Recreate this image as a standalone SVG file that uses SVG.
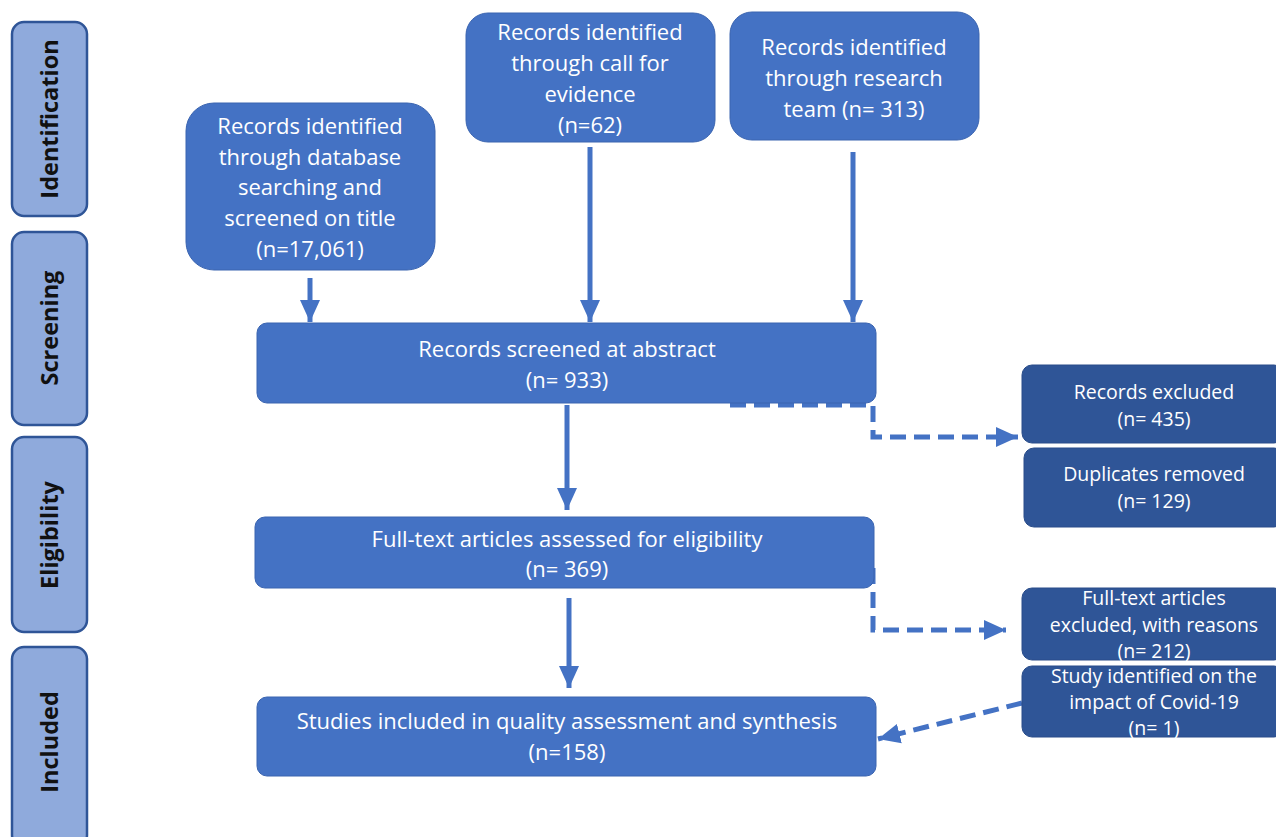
<svg xmlns="http://www.w3.org/2000/svg" width="1276" height="837" viewBox="0 0 1276 837">
<style>
.phase{fill:#8faadc;stroke:#2f5597;stroke-width:2.5}
.pt{font-family:"Open Sans","Liberation Sans",Arial,sans-serif;font-weight:bold;font-size:23.5px;fill:#111;text-anchor:middle}
.box{fill:#4472c4;stroke:#3a64b0;stroke-width:1}
.dbox{fill:#2f5597;stroke:#2a4d8a;stroke-width:1}
.t{font-family:"Open Sans","Liberation Sans",Arial,sans-serif;font-size:22px;fill:#fff;text-anchor:middle}
.tt{font-family:"Open Sans","Liberation Sans",Arial,sans-serif;font-size:22px;fill:#fff;text-anchor:middle}
.ts{font-family:"Open Sans","Liberation Sans",Arial,sans-serif;font-size:19.5px;fill:#fff;text-anchor:middle}
.solid{stroke:#4472c4;stroke-width:5;fill:none}
.dash{stroke:#4472c4;stroke-width:5;fill:none;stroke-dasharray:16,8}
</style>
<defs>
<marker id="ah" markerUnits="userSpaceOnUse" markerWidth="24" markerHeight="24" viewBox="0 0 24 24" refX="22" refY="12" orient="auto">
<path d="M0,2 L22,12 L0,22 Z" fill="#4472c4"/>
</marker>
</defs>
<g id="phases">
<g id="ph-identification"><rect class="phase" x="12" y="22" width="75" height="194" rx="12"/><text class="pt" transform="translate(58,119) rotate(-90)">Identification</text></g>
<g id="ph-screening"><rect class="phase" x="12" y="232" width="75" height="193" rx="12"/><text class="pt" transform="translate(58,328) rotate(-90)">Screening</text></g>
<g id="ph-eligibility"><rect class="phase" x="12" y="437" width="75" height="195" rx="12"/><text class="pt" transform="translate(58,535) rotate(-90)">Eligibility</text></g>
<g id="ph-included"><rect class="phase" x="12" y="647" width="75" height="200" rx="12"/><text class="pt" transform="translate(58,742) rotate(-90)">Included</text></g>
</g>
<g id="connectors">
<path class="solid" d="M310,278 L310,322" marker-end="url(#ah)"/>
<path class="solid" d="M590,147 L590,322" marker-end="url(#ah)"/>
<path class="solid" d="M853,152 L853,322" marker-end="url(#ah)"/>
<path class="solid" d="M567,405 L567,510" marker-end="url(#ah)"/>
<path class="solid" d="M569,598 L569,688" marker-end="url(#ah)"/>
<path class="dash" d="M730,405 L873,405 L873,437 L1018,437" marker-end="url(#ah)"/>
<path class="dash" d="M873,568 L873,630 L1006,630" marker-end="url(#ah)"/>
<path class="dash" d="M1022,703 L878,739" marker-end="url(#ah)"/>
</g>
<g id="n-database"><rect class="box" x="186" y="103" width="249" height="167" rx="28"/>
<text class="tt" x="310" y="134">Records identified</text><text class="tt" x="310" y="165">through database</text><text class="tt" x="310" y="195">searching and</text><text class="tt" x="310" y="226">screened on title</text><text class="tt" x="310" y="257">(n=17,061)</text></g>
<g id="n-call"><rect class="box" x="466" y="13" width="249" height="129" rx="22"/>
<text class="tt" x="590" y="40">Records identified</text><text class="tt" x="590" y="71">through call for</text><text class="tt" x="590" y="102">evidence</text><text class="tt" x="590" y="133">(n=62)</text></g>
<g id="n-team"><rect class="box" x="730" y="12" width="249" height="128" rx="22"/>
<text class="tt" x="854" y="55">Records identified</text><text class="tt" x="854" y="86">through research</text><text class="tt" x="854" y="117">team (n= 313)</text></g>
<g id="n-screened"><rect class="box" x="257" y="323" width="619" height="80" rx="10"/>
<text class="t" x="567" y="357">Records screened at abstract</text><text class="t" x="567" y="388">(n= 933)</text></g>
<g id="n-fulltext"><rect class="box" x="255" y="517" width="619" height="71" rx="10"/>
<text class="t" x="567" y="547">Full-text articles assessed for eligibility</text><text class="t" x="567" y="577">(n= 369)</text></g>
<g id="n-included"><rect class="box" x="257" y="697" width="619" height="79" rx="10"/>
<text class="t" x="567" y="729">Studies included in quality assessment and synthesis</text><text class="t" x="567" y="760">(n=158)</text></g>
<g id="n-excluded"><rect class="dbox" x="1022" y="365" width="262" height="78" rx="10"/>
<text class="ts" x="1154" y="399">Records excluded</text><text class="ts" x="1154" y="426">(n= 435)</text></g>
<g id="n-duplicates"><rect class="dbox" x="1024" y="448" width="260" height="79" rx="10"/>
<text class="ts" x="1154" y="481">Duplicates removed</text><text class="ts" x="1154" y="508">(n= 129)</text></g>
<g id="n-ftexcluded"><rect class="dbox" x="1022" y="588" width="262" height="72" rx="10"/>
<text class="ts" x="1154" y="605">Full-text articles</text><text class="ts" x="1154" y="632">excluded, with reasons</text><text class="ts" x="1154" y="658">(n= 212)</text></g>
<g id="n-covid"><rect class="dbox" x="1022" y="666" width="262" height="71" rx="10"/>
<text class="ts" x="1154" y="683">Study identified on the</text><text class="ts" x="1154" y="709">impact of Covid-19</text><text class="ts" x="1154" y="735">(n= 1)</text></g>
</svg>
